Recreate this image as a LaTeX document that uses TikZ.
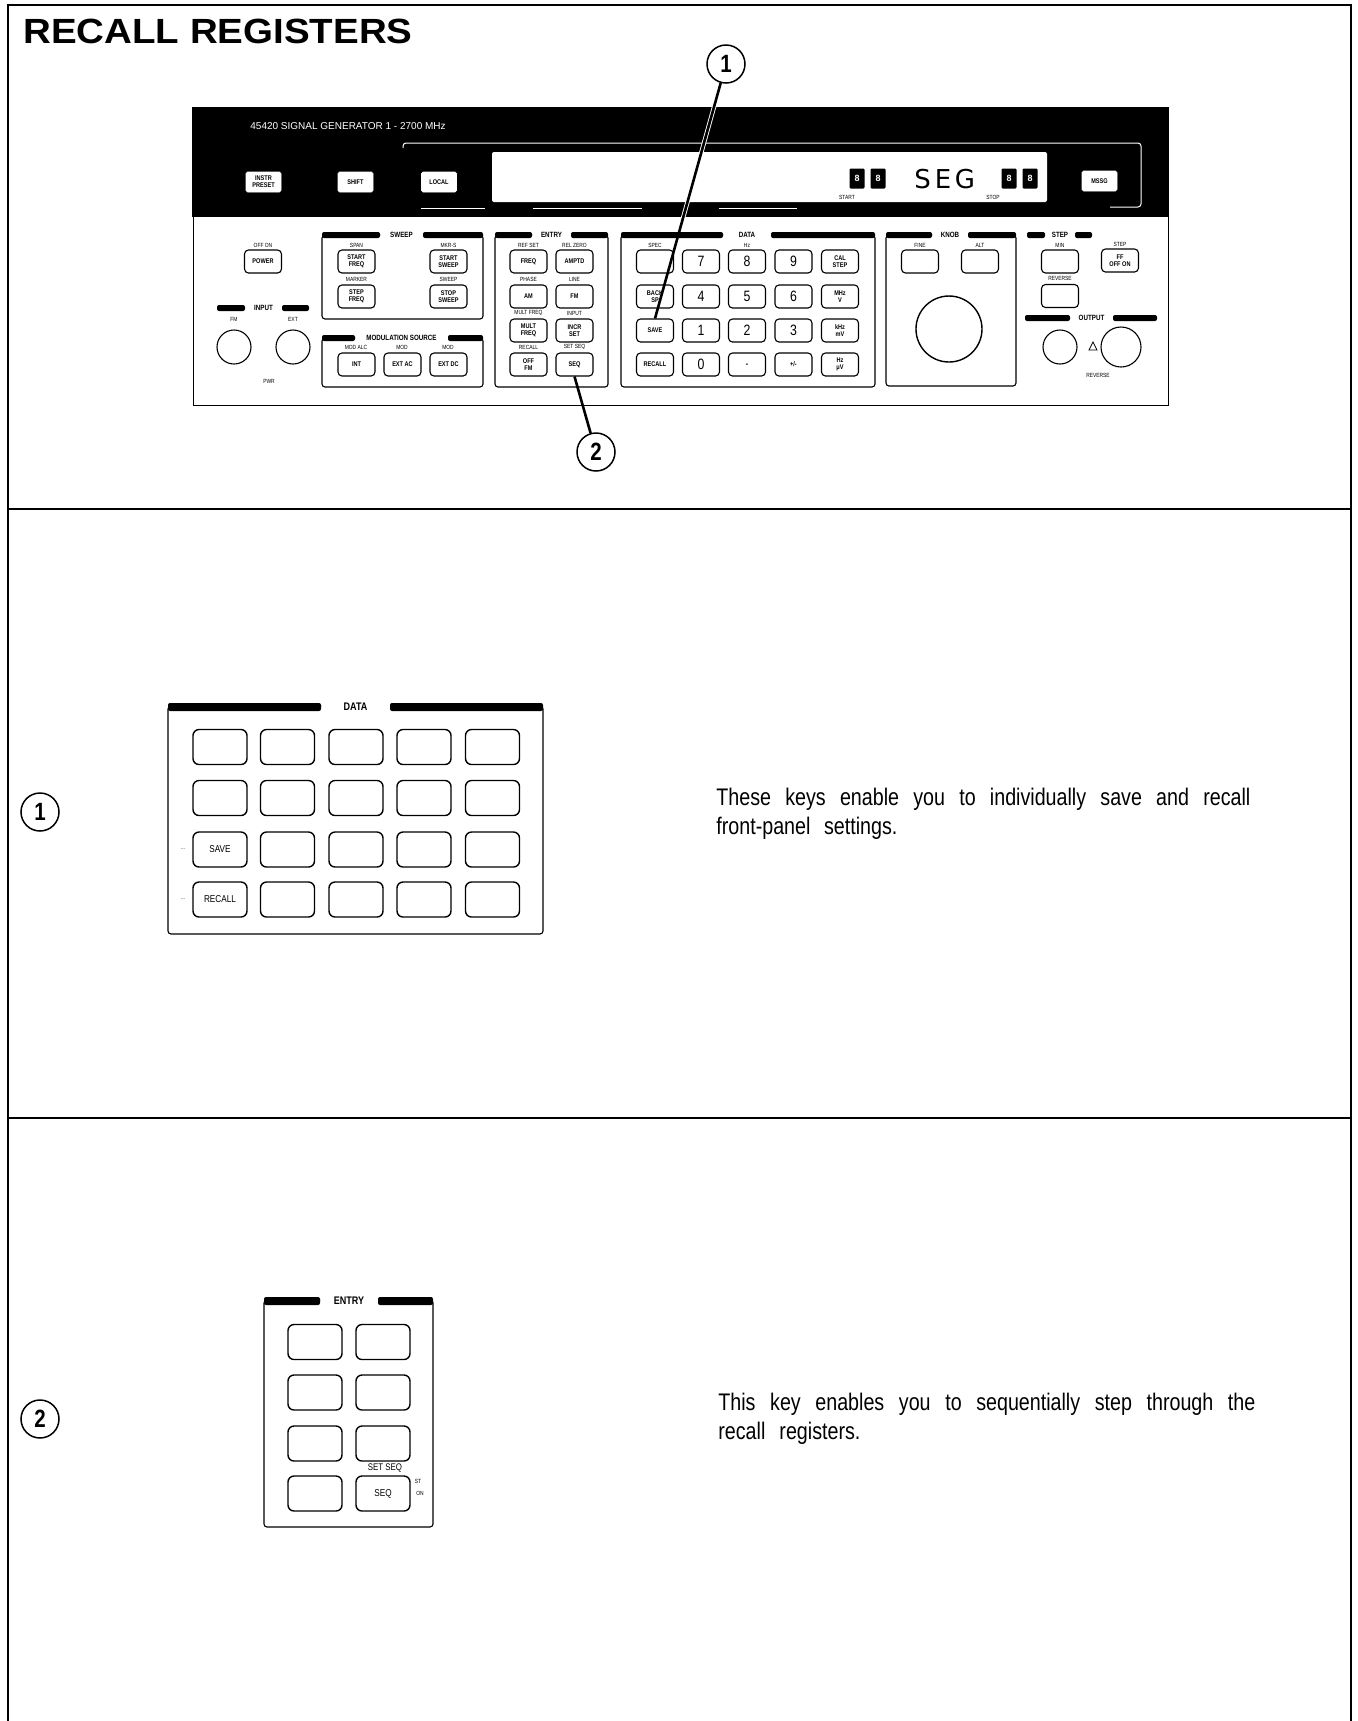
\documentclass[tikz,border=0pt]{standalone}
\usepackage{fontspec}
\setmainfont{Liberation Sans}
\newfontfamily\cond[FakeStretch=0.82]{Liberation Sans}
\newfontfamily\titlef[FakeStretch=1.1]{Liberation Sans}
\newfontfamily\lcdf{DejaVu Sans}
\usetikzlibrary{calc}
\newcommand{\fs}[1]{\fontsize{#1}{#1}\selectfont}
\newcommand{\bh}{6}
\newcommand{\secbox}[8]{% name,x1,y1,x2,y2,a,b,label
  \draw[seclin,rounded corners=1.5pt] (#6,#3+3)--(#2,#3+3)--(#2,#5)--(#4,#5)--(#4,#3+3)--(#7,#3+3);
  \fill[rounded corners=1pt] (#2,#3) rectangle (#6,#3+\bh);
  \fill[rounded corners=1pt] (#7,#3) rectangle (#4,#3+\bh);
  \node[seclab] (#1) at ({(#6+#7)/2},#3+\bh/2) {#8};
}
\newcommand{\barpair}[7]{% name,x1,x2,x3,x4,y,label
  \fill[rounded corners=1pt] (#2,#6) rectangle (#3,#6+6);
  \fill[rounded corners=1pt] (#4,#6) rectangle (#5,#6+6);
  \node[seclab] (#1) at ({(#3+#4)/2},#6+3) {#7};
}
\tikzset{
  x=0.5pt,y=-0.5pt,
  frameline/.style={line width=1.3pt},
  divider/.style={line width=0.8pt},
  seclin/.style={line width=0.55pt},
  pkey/.style={draw,line width=0.55pt,rounded corners=2pt,minimum width=18.5pt,minimum height=11.5pt,inner sep=0pt,align=center,font=\bfseries\cond\fs{3.4}},
  pdigit/.style={pkey,font=\cond\fs{7.5}},
  wkey/.style={fill=white,draw=white,rounded corners=0.8pt,minimum width=17.5pt,minimum height=10pt,inner sep=0pt,align=center,text=black,font=\bfseries\cond\fs{3.4}},
  bigkey/.style={draw,line width=0.7pt,rounded corners=3pt,minimum width=27pt,minimum height=17.5pt,inner sep=0pt,font=\cond\fs{5}},
  seclab/.style={inner sep=0pt,font=\bfseries\cond\fs{3.8}},
  tinyl/.style={inner sep=0pt,font=\cond\fs{3}},
  knob/.style={draw,circle,line width=0.55pt,inner sep=0pt},
  callout/.style={draw,circle,line width=0.75pt,minimum size=19pt,inner sep=0pt,font=\bfseries\cond\fs{12.5}},
  leader/.style={line width=1.3pt},
  halo/.style={white,line width=2.2pt},
  body/.style={inner sep=0pt,anchor=north west,align=left,font=\cond\fontsize{12}{14.5}\selectfont},
  lcd/.style={fill=black,text=white,inner sep=0pt,minimum width=7.5pt,minimum height=10pt,rounded corners=0.6pt,font=\bfseries\fs{4.5}},
  seg/.style={inner sep=0pt,font=\lcdf\fs{13}},
}
\begin{document}
\begin{tikzpicture}
\useasboundingbox (0,0) rectangle (1357,1721);
% frame
\draw[frameline] (8,1721)--(8,5)--(1351,5)--(1351,1721);
\draw[divider] (8,509)--(1351,509);
\draw[divider] (8,1118)--(1351,1118);
\node[inner sep=0pt,anchor=base west,font=\bfseries\titlef\fs{17.5}] (title) at (23,43.5) {RECALL REGISTERS};

% instrument panel
\draw[line width=0.45pt] (193,217)--(193,405)--(1168,405)--(1168,217);
\fill (192,107) rectangle (1169,217);
\node[inner sep=0pt,anchor=west,text=white,font=\fs{5}] (model) at (250,126) {45420 SIGNAL GENERATOR 1 - 2700 MHz};
\draw[white,line width=0.5pt,rounded corners=1.5pt] (403,148)--(403,143)--(1141,143)--(1141,207)--(1110,207);
\draw[white,line width=0.5pt] (421,208)--(485,208) (533,208)--(642,208) (719,208)--(797,208);
\fill[white,rounded corners=1pt] (492,152) rectangle (1047,202);
\node[wkey] (preset) at (263.5,182) {INSTR\\PRESET};
\node[wkey] (shift) at (355.5,182) {SHIFT};
\node[wkey] (local) at (439,182) {LOCAL};
\node[wkey] (mssg) at (1099.5,181) {MSSG};
% display
\node[lcd] (d1) at (857,178.5) {8};
\node[lcd] (d2) at (878,178.5) {8};
\node[seg] (s1) at (922.5,179) {S};
\node[seg] (s2) at (943,179) {E};
\node[seg] (s3) at (965,179) {G};
\node[lcd] (d3) at (1009,178.5) {8};
\node[lcd] (d4) at (1030,178.5) {8};
\node[tinyl] (start) at (847,197) {START};
\node[tinyl] (stop) at (993,197) {STOP};

% sections
\secbox{lsweep}{322}{232}{483}{319}{380}{423}{SWEEP}
\secbox{lmod}{322}{335}{483}{387}{355}{448}{MODULATION SOURCE}
\secbox{lentry}{495}{232}{608}{387}{532}{571}{ENTRY}
\secbox{ldata}{621}{232}{875}{387}{723}{771}{DATA}
\secbox{lknob}{886}{232}{1016}{386}{932}{968}{KNOB}
\barpair{lstep}{1027}{1045}{1075}{1092}{232}{STEP}
\barpair{loutput}{1025}{1070}{1113}{1157}{315}{OUTPUT}
\barpair{linput}{217}{245}{282}{309}{305}{INPUT}

% panel keys
\foreach \n/\x/\y/\t in {
  power/263/261.5/POWER,
  sfreq/356.5/261.5/{START\\FREQ},sswp/448.5/261.5/{START\\SWEEP},
  stfreq/356.5/296.5/{STEP\\FREQ},stswp/448.5/296.5/{STOP\\SWEEP},
  mint/356.5/364.5/INT,mac/402.5/364.5/{EXT AC},mdc/448.5/364.5/{EXT DC},
  ea/528.5/261.5/FREQ,eb/574.5/261.5/AMPTD,
  ec/528.5/296.5/AM,ed/574.5/296.5/FM,
  ee/528.5/330.5/{MULT\\FREQ},ef/574.5/330.5/{INCR\\SET},
  eg/528.5/364.5/{OFF\\FM},pseq/574.5/364.5/SEQ,
  db/655/261.5/{},dc/840/261.5/{CAL\\STEP},
  dd/655/296.5/{BACK\\SP},de/840/296.5/{MHz\\V},
  psave/655/330.5/SAVE,df/840/330.5/{kHz\\mV},
  precall/655/364.5/RECALL,dg/793.5/364.5/{+/-},dh/840/364.5/{Hz\\μV},
  ka/920/261.5/{},kb/980/261.5/{},
  sa/1060/261.5/{},sb/1060/296/{},sc/1120/260.5/{FF\\OFF ON}}
  {\node[pkey] (\n) at (\x,\y) {\t};}
\foreach \n/\x/\y/\t in {
  k7/701/261.5/7,k8/747/261.5/8,k9/793.5/261.5/9,
  k4/701/296.5/4,k5/747/296.5/5,k6/793.5/296.5/6,
  k1/701/330.5/1,k2/747/330.5/2,k3/793.5/330.5/3,
  k0/701/364.5/0,kdot/747/364.5/.}
  {\node[pdigit] (\n) at (\x,\y) {\t};}
% small labels over the panel keys
\foreach[count=\i] \x/\y/\t in {
  356.5/245/SPAN,448.5/245/MKR-S,356.5/279/MARKER,448.5/279/SWEEP,
  402/347/MOD,448/347/MOD,356/347/MOD ALC,
  528.5/245/REF SET,574.5/245/REL ZERO,528.5/279/PHASE,574.5/279/LINE,
  528.5/313/MULT FREQ,574.5/313/INPUT,528.5/347/RECALL,574.5/347/SET SEQ,
  655/245/SPEC,747/245/Hz,920/245/FINE,980/245/ALT,1060/245/MIN,1120/244/STEP,1060/278/REVERSE,
  234/319/FM/AM,293/319/EXT,1098/375/REVERSE,269/381/PWR,263/245/OFF\ ON}
  {\node[tinyl] (t\i) at (\x,\y) {\t};}
% knobs
\node[knob,minimum size=17pt] (in1) at (234,347) {};
\node[knob,minimum size=17pt] (in2) at (293,347) {};
\node[knob,minimum size=33pt,line width=0.7pt] (bigknob) at (949,329) {};
\node[knob,minimum size=17pt] (out1) at (1060,347) {};
\node[knob,minimum size=20pt] (out2) at (1121,347) {};
\coordinate (trc) at (1093,346);
\draw[line width=0.4pt] ($(trc)+(-4,4)$)--($(trc)+(0,-4)$)--($(trc)+(4,4)$)--cycle;

% callouts on the panel
\node[callout] (c1) at (726,64) {1};
\node[callout] (c2) at (596,452) {2};
\begin{scope}
  \clip (192,107) rectangle (1169,217);
  \draw[halo] (c1)--(psave.north);
\end{scope}
\draw[leader] (c1)--(psave.north);
\draw[leader] (c2)--(pseq.south);

% DATA keypad
\renewcommand{\bh}{8}
\secbox{ldata2}{168}{703}{543}{934}{321}{390}{\fs{5.5}DATA}
\foreach \n/\x/\y/\t in {
 a1/220/747/{},a2/287.5/747/{},a3/356/747/{},a4/424/747/{},a5/492.5/747/{},
 b1/220/798/{},b2/287.5/798/{},b3/356/798/{},b4/424/798/{},b5/492.5/798/{},
 csave/220/849.5/SAVE,c2k/287.5/849.5/{},c3k/356/849.5/{},c4k/424/849.5/{},c5k/492.5/849.5/{},
 drecall/220/899.5/RECALL,d2k/287.5/899.5/{},d3k/356/899.5/{},d4k/424/899.5/{},d5k/492.5/899.5/{}}
 {\node[bigkey] (\n) at (\x,\y) {\t};}
\node[tinyl] (lsv) at (183,849) {...};
\node[tinyl] (lrc) at (183,899) {...};
\node[callout] (n1) at (40,812) {1};
\node[body] (txt1) at (716,787.5) {\makebox[267pt][s]{These keys enable you to individually save and recall}\\\makebox[90.5pt][s]{front-panel settings.}};

% ENTRY keypad
\secbox{lentry2}{264}{1297}{433}{1527}{320}{378}{\fs{5.5}ENTRY}
\foreach \n/\x/\y/\t in {
 e1/315/1342/{},e2/383/1342/{},
 e3/315/1392.5/{},e4/383/1392.5/{},
 e5/315/1443.5/{},e6/383/1443.5/{},
 e7/315/1493.5/{},eseq/383/1493.5/SEQ}
 {\node[bigkey] (\n) at (\x,\y) {\t};}
\node[seclab,font=\cond\fs{4.8}] (setseq) at (385,1468) {SET SEQ};
\node[tinyl] (so1) at (418,1481) {ST};
\node[tinyl] (so2) at (420,1493) {ON};
\node[callout] (n2) at (40,1419) {2};
\node[body] (txt2) at (718,1392.5) {\makebox[268.5pt][s]{This key enables you to sequentially step through the}\\\makebox[71pt][s]{recall registers.}};
\end{tikzpicture}
\end{document}
